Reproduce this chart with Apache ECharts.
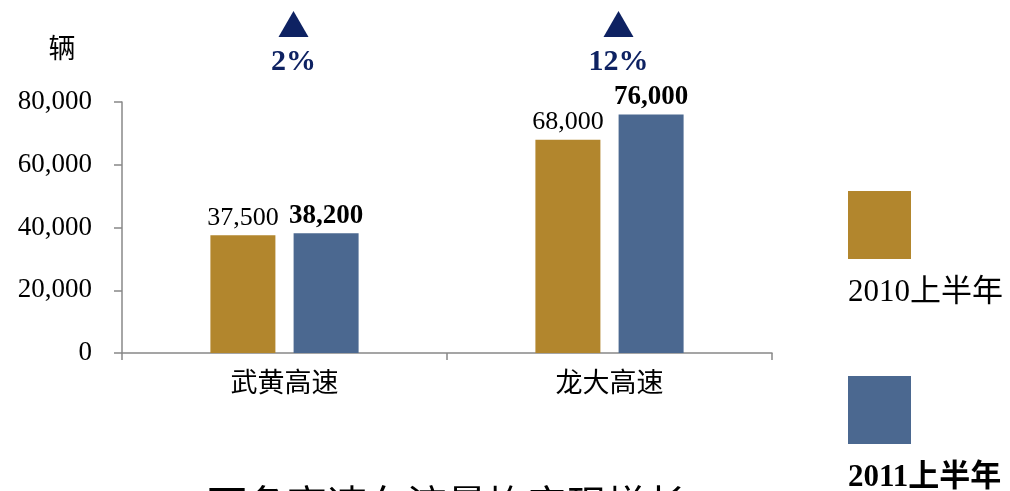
<!DOCTYPE html>
<html>
<head>
<meta charset="utf-8">
<script src="https://cdn.jsdelivr.net/npm/echarts@6/dist/echarts.min.js"></script>
<style>
  html, body { margin: 0; padding: 0; background: #ffffff; }
  #chart { width: 1010px; height: 491px; }
</style>
</head>
<body>
<div id="chart"></div>
<script>
// Vehicle counts per expressway, first half of each year
const categories = ['武黄高速', '龙大高速'];
const seriesNames = ['2010上半年', '2011上半年'];
const values2010 = [37500, 68000];
const values2011 = [38200, 76000];
const yTicks = [0, 20000, 40000, 60000, 80000];
const unitLabel = '辆';
const footerTitle = '两条高速车流量均实现增长';

const GOLD = '#B2862D';
const BLUE = '#4B6890';
const NAVY = '#0E2262';
const SERIF = '"Liberation Serif", "Times New Roman", "Noto Sans CJK SC", serif';
const CJK = '"Noto Sans CJK SC", sans-serif';

const fmt = v => Number(v).toLocaleString('en-US');

const chart = echarts.init(document.getElementById('chart'));

chart.setOption({
  animation: false,
  backgroundColor: '#ffffff',
  grid: { left: 122, right: 238, top: 102, bottom: 138, containLabel: false },
  xAxis: {
    type: 'category',
    data: categories,
    axisLine: { lineStyle: { color: '#888888', width: 1.5 } },
    axisTick: { show: true, length: 7, lineStyle: { color: '#888888', width: 1.5 } },
    axisLabel: { fontFamily: CJK, fontSize: 27, color: '#000000', margin: 15 }
  },
  yAxis: {
    type: 'value',
    min: yTicks[0],
    max: yTicks[yTicks.length - 1],
    interval: yTicks[1] - yTicks[0],
    axisLine: { show: true, lineStyle: { color: '#888888', width: 1.5 } },
    axisTick: { show: true, length: 8, lineStyle: { color: '#888888', width: 1.5 } },
    splitLine: { show: false },
    axisLabel: { fontFamily: SERIF, fontSize: 27, color: '#000000', margin: 30, formatter: fmt }
  },
  series: [
    {
      name: seriesNames[0],
      type: 'bar',
      data: values2010,
      barWidth: '20%',
      barGap: '28%',
      itemStyle: { color: GOLD },
      label: {
        show: true, position: 'top', distance: 4,
        fontFamily: SERIF, fontSize: 26, color: '#000000',
        formatter: p => fmt(p.value)
      }
    },
    {
      name: seriesNames[1],
      type: 'bar',
      data: values2011,
      barWidth: '20%',
      itemStyle: { color: BLUE },
      label: {
        show: true, position: 'top', distance: 4,
        fontFamily: SERIF, fontSize: 27, fontWeight: 'bold', color: '#000000',
        formatter: p => fmt(p.value)
      }
    }
  ]
});

// Growth markers above each category, positioned from the category axis
const graphics = [];
categories.forEach((c, i) => {
  const cx = chart.convertToPixel({ xAxisIndex: 0 }, c) + 9;
  const growth = Math.round((values2011[i] - values2010[i]) / values2010[i] * 100);
  graphics.push({
    type: 'polygon',
    shape: { points: [[cx, 11], [cx - 15, 37], [cx + 15, 37]] },
    style: { fill: NAVY }
  });
  graphics.push({
    type: 'text',
    x: cx, y: 62,
    style: {
      text: growth + '%', fill: NAVY,
      font: 'bold 30px ' + SERIF,
      textAlign: 'center', textVerticalAlign: 'middle'
    }
  });
});

// Unit label over the value axis
graphics.push({
  type: 'text', x: 62, y: 48,
  style: { text: unitLabel, fill: '#000000', font: '27px ' + CJK, textAlign: 'center', textVerticalAlign: 'middle' }
});

// Legend: swatch with its name underneath
const legendRows = [
  { name: seriesNames[0], color: GOLD, top: 191, weight: 'normal' },
  { name: seriesNames[1], color: BLUE, top: 376, weight: 'bold' }
];
legendRows.forEach(r => {
  graphics.push({ type: 'rect', shape: { x: 848, y: r.top, width: 63, height: 68 }, style: { fill: r.color } });
  graphics.push({
    type: 'text', x: 848, y: r.top + 102,
    style: { text: r.name, fill: '#000000', font: r.weight + ' 31px ' + SERIF, textAlign: 'left', textVerticalAlign: 'middle' }
  });
});

// Footer heading running off the lower edge
graphics.push({
  type: 'text', x: 447, y: 484,
  style: { text: footerTitle, fill: '#000000', font: '40px ' + CJK, textAlign: 'center', textVerticalAlign: 'top' }
});

chart.setOption({ graphic: graphics });
</script>
</body>
</html>
